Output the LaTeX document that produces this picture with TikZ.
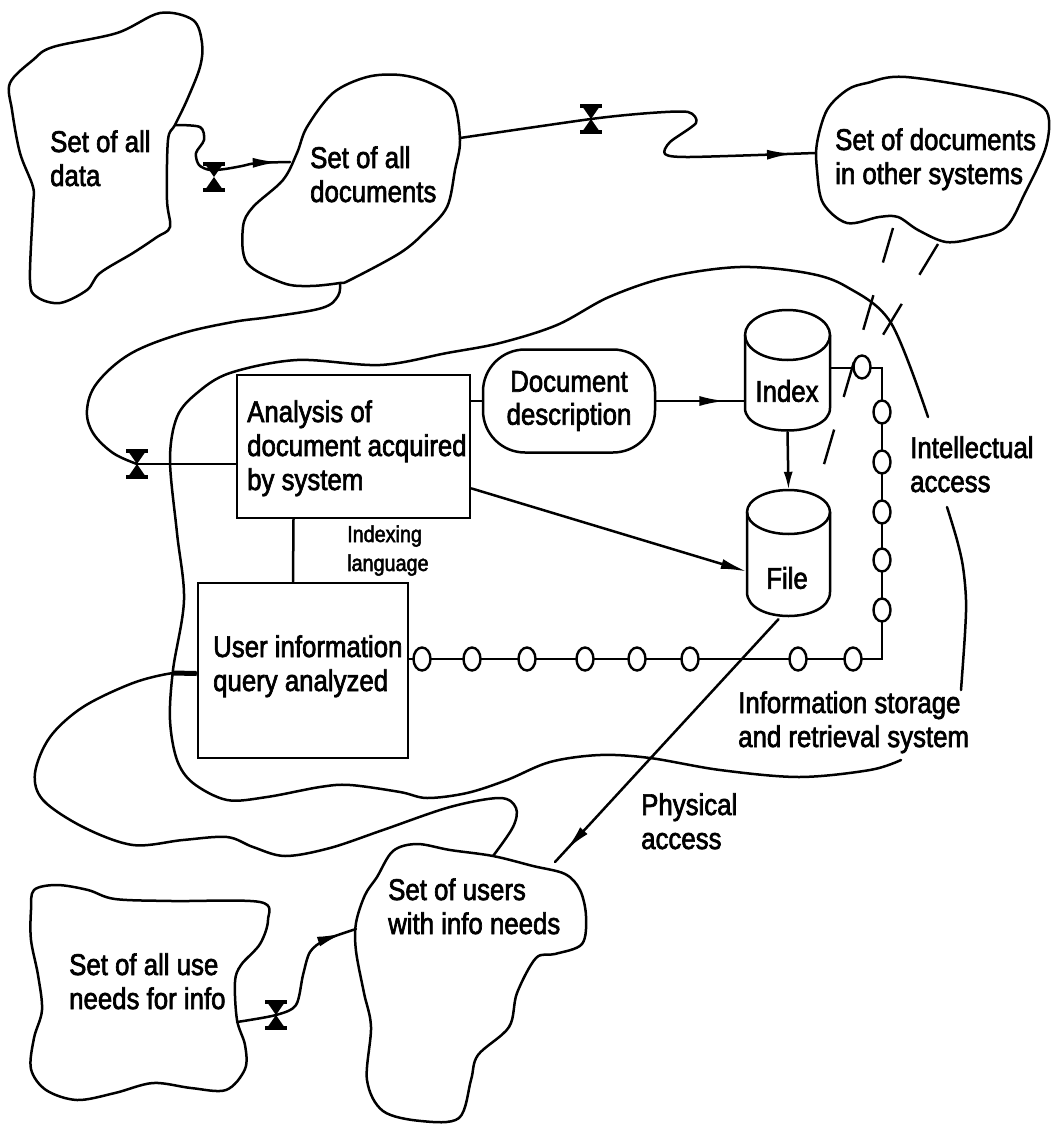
\documentclass[tikz,border=0pt]{standalone}
\usepackage{fontspec}
\setmainfont{Liberation Sans}[FakeStretch=0.86,FakeBold=2.2]
\usetikzlibrary{arrows.meta,decorations.markings,calc,shapes.geometric}
\newcommand{\lns}[1]{\begin{tabular}[t]{@{}l@{}}#1\end{tabular}}
\begin{document}
\begin{tikzpicture}[x=1pt,y=-1pt,
  outl/.style={line width=2.5pt,line cap=round,line join=round},
  boxst/.style={draw,line width=2.8pt,fill=white,inner sep=0pt},
  lbl/.style={font=\fontsize{30}{34}\selectfont,inner sep=0pt,anchor=base west},
  smalllbl/.style={font=\fontsize{23}{29}\selectfont,inner sep=0pt,anchor=base west},
  bead/.style={ellipse,draw,fill=white,line width=2.4pt,minimum width=17pt,minimum height=23pt,inner sep=0pt},
  dsh/.style={line width=2.4pt,dash pattern=on 36pt off 34pt},
  midarrow/.style={postaction={decorate},decoration={markings,mark=at position #1 with {\arrow{Latex[length=26pt,width=10pt]}}}},
  valve/.pic={\draw[line width=3.2pt] (-11,-13)--(11,-13) (-11,13)--(11,13);
              \fill (-9,-13)--(9,-13)--(0,0)--cycle; \fill (-9,13)--(9,13)--(0,0)--cycle;}
]
\fill[white] (0,0) rectangle (1052,1126);
\useasboundingbox (0,0) rectangle (1052,1126);

% ---------- information storage and retrieval system boundary ----------
\draw[outl] plot[smooth,tension=0.55] coordinates {(901,760) (870,770) (799,777) (720,770) (650,758) (600,755) (550,762) (507,780) (467,793) (427,798) (400,792) (350,785) (320,787) (267,797) (227,800) (193,783) (177,760) (170,720) (173,670) (184,600) (177,533) (170,460) (177,417) (197,393) (230,373) (297,360) (380,365) (447,353) (500,343) (557,325) (609,297) (668,277) (740,267) (807,273) (847,287) (891,323) (928,417)};
\draw[outl] plot[smooth,tension=0.55] coordinates {(947,507) (957,540) (963,567) (966,600) (965,633) (961,690)};

% ---------- blobs ----------
\draw[outl] plot[smooth cycle,tension=0.55] coordinates {(10,83) (33,60) (53,47) (117,33) (160,13) (193,20) (202,43) (200,67) (187,100) (175,125) (168,140) (167,200) (170,227) (157,237) (133,253) (100,273) (87,290) (60,303) (37,297) (30,280) (33,207) (33,187) (20,153) (12,110)};
\draw[outl] plot[smooth cycle,tension=0.55] coordinates {(400,75) (430,83) (453,100) (460,140) (455,170) (447,207) (425,232) (400,253) (350,280) (340,283) (310,286) (283,283) (247,263) (243,227) (253,207) (283,180) (297,153) (307,127) (333,93) (367,77)};
\draw[outl] plot[smooth cycle,tension=0.55] coordinates {(817,143) (827,110) (847,90) (867,83) (906,77) (1006,93) (1040,105) (1049,120) (1045,150) (1025,193) (1006,227) (975,238) (946,242) (918,230) (898,217) (879,217) (847,223) (823,203) (817,170)};
\draw[outl] plot[smooth cycle,tension=0.55] coordinates {(34,890) (57,885) (88,890) (115,899) (172,901) (260,902) (268,920) (260,944) (241,965) (235,982) (237,1020) (245,1045) (245,1069) (226,1090) (191,1088) (153,1083) (115,1093) (77,1100) (46,1090) (31,1069) (34,1038) (42,1010) (38,975) (31,940) (31,910)};
\draw[outl] plot[smooth cycle,tension=0.55] coordinates {(377,877) (393,851) (417,844) (450,850) (493,856) (533,866) (565,874) (580,890) (586,916) (582,944) (555,954) (536,958) (517,993) (509,1027) (478,1055) (471,1080) (459,1118) (421,1121) (383,1111) (367,1080) (371,1027) (364,993) (356,951) (356,923) (365,895)};

% blob texts
\node[lbl] (tA) at (50,152) {\lns{Set of all\\data}};
\node[lbl] (tB) at (310,168) {\lns{Set of all\\documents}};
\node[lbl] (tC) at (835,150) {\lns{Set of documents\\in other systems}};
\node[lbl] (tD) at (69,975) {\lns{Set of all use\\needs for info}};
\node[lbl] (tE) at (388,900) {\lns{Set of users\\with info needs}};

% ---------- valves ----------
\coordinate (v1) at (214,177);
\coordinate (v2) at (591,119);
\coordinate (v3) at (137,464);
\coordinate (v4) at (276,1015);

% connectors between blobs
\draw[outl,midarrow=0.93] plot[smooth,tension=0.5] coordinates {(175,125) (200,127) (204,140) (196,153) (199,165) (210,170) (225,169) (242,166) (257,163) (290,162)};
\draw[outl,midarrow=0.95] plot[smooth,tension=0.45] coordinates {(460,138) (591,119) (650,113) (688,112) (696,123) (670,142) (665,154) (690,157) (815,153)};
\draw[outl] plot[smooth,tension=0.6] coordinates {(340,283) (338,296) (322,308) (270,317) (233,322) (180,334) (130,354) (97,383) (87,410) (93,433) (113,453) (v3)};
\draw[outl,midarrow=0.92] plot[smooth,tension=0.5] coordinates {(237,1022) (v4) (296,1005) (303,975) (310,952) (325,940) (356,929)};

% ---------- boxes ----------
\node[boxst,minimum width=233pt,minimum height=143pt] (analysis) at (353.5,446.5) {};
\node[boxst,minimum width=210pt,minimum height=175pt] (user) at (303,670.5) {};
\node[lbl] (tAn) at (247,422) {\lns{Analysis of\\document acquired\\by system}};
\node[lbl] (tUs) at (213,657) {\lns{User information\\query analyzed}};
\node[smalllbl] (tIx) at (347,542) {\lns{Indexing\\language}};

\node[draw,line width=2.5pt,rounded corners=42pt,minimum width=172pt,minimum height=103pt,inner sep=0pt,align=center,font=\fontsize{30}{33}\selectfont] (docdesc) at (569,401) {Document\\description};

% cylinders
\node[minimum width=85pt,minimum height=122pt,inner sep=0pt] (index) at (787.5,371) {};
\node[minimum width=83pt,minimum height=127pt,inner sep=0pt] (file) at (788.5,553.5) {};
\draw[outl] (745,335) -- (745,408) .. controls (745,438) and (830,438) .. (830,408) -- (830,335);
\draw[outl] (787.5,335) ellipse [x radius=42.5, y radius=25];
\draw[outl] (747,512) -- (747,592) .. controls (747,624) and (830,624) .. (830,592) -- (830,512);
\draw[outl] (788.5,512) ellipse [x radius=41.5, y radius=22];
\node[font=\fontsize{30}{34}\selectfont,inner sep=0pt] (tIndex) at (787,391) {Index};
\node[font=\fontsize{30}{34}\selectfont,inner sep=0pt] (tFile) at (787,578) {File};

% connectors inside system
\draw[outl] (analysis.east |- docdesc.west) -- (docdesc.west);
\draw[outl,midarrow=0.78] (docdesc.east) -- (docdesc.east -| index.west);
\draw[outl,-{Latex[length=18pt,width=9pt]}] (index.south) -- (file.north);
\draw[outl,-{Latex[length=26pt,width=10pt]}] ($(analysis.south east)+(0,-31)$) -- ($(file.west)+(0,18)$);
\draw[outl] ($(analysis.south)+(-60,0)$) -- ($(user.north)+(-10,0)$);
\draw[outl] (v3) -- (v3 -| analysis.west);

% users loop
\coordinate (uL) at ($(user.west)+(0,3)$);
\draw[outl] plot[smooth,tension=0.55] coordinates {(uL) (173,673) (133,683) (83,707) (50,737) (35,773) (43,800) (83,827) (133,845) (183,840) (227,837) (253,847) (285,856) (330,848) (383,830) (450,807) (500,798) (516,808) (513,827) (493,856)};
\draw[line width=5pt] (uL) -- (173,673);

% physical access
\coordinate (eTop) at (555,862);
\draw[outl,midarrow=0.95] ($(file.south)+(-10,2)$) -- (eTop);

% dashed links to other systems
\draw[dsh] (893,228) -- (820,478);
\draw[dsh] (938,244) -- (869,358);

% chain of beads (intellectual access path)
\coordinate (ctop) at (882,368);
\coordinate (cbot) at (882,659);
\draw[line width=2.8pt] (cbot -| user.east) -- (cbot) -- (ctop) -- (ctop -| index.east);
\foreach \i/\x in {1/422,2/472,3/527,4/585,5/637,6/690,7/798,8/853} \node[bead] (h\i) at (\x,659) {};
\foreach \i/\y in {1/412,2/462,3/512,4/560,5/610} \node[bead] (w\i) at (882,\y) {};
\node[bead] (w0) at (862,367) {};

% valves on top
\pic at (v1) {valve};
\pic at (v2) {valve};
\pic at (v3) {valve};
\pic at (v4) {valve};

% labels
\node[lbl] (tIA) at (910,458) {\lns{Intellectual\\access}};
\node[lbl] (tIS) at (738,713) {\lns{Information storage\\and retrieval system}};
\node[lbl] (tPA) at (641,815) {\lns{Physical\\access}};
\end{tikzpicture}
\end{document}
